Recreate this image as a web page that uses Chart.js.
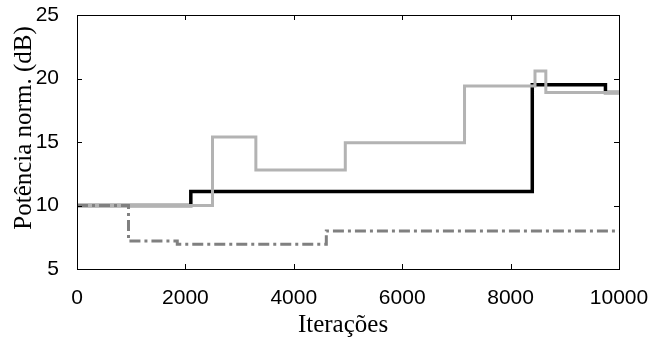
<!DOCTYPE html>
<html>
<head>
<meta charset="utf-8">
<script src="https://cdn.jsdelivr.net/npm/chart.js@4/dist/chart.umd.min.js"></script>
<style>
  html, body { margin: 0; padding: 0; background: #fff; }
  #wrap { width: 649px; height: 338px; }
</style>
</head>
<body>
<div id="wrap"><canvas id="myChart"></canvas></div>
<script>
// step change points (x = iteration where the new value starts)
const blackX = [0, 2100, 8400, 9750, 10000];
const blackY = [10, 11.1, 19.5, 18.9, 18.9];

const grayX = [0, 2500, 3300, 4950, 7150, 8450, 8650, 10000];
const grayY = [10, 15.4, 12.8, 14.95, 19.4, 20.6, 18.9, 18.9];

const dashX = [0, 950, 1850, 4600, 10000];
const dashY = [10, 7.2, 6.95, 8.0, 8.0];

const xTicks = [0, 2000, 4000, 6000, 8000, 10000];
const yTicks = [5, 10, 15, 20, 25];

const xTitle = "Iterações";
const yTitle = "Potência norm. (dB)";

function pts(xs, ys) {
  return xs.map((x, i) => ({ x: x, y: ys[i] }));
}

function noPad(s) {
  s.paddingTop = 0;
  s.paddingBottom = 0;
  s.paddingLeft = 0;
  s.paddingRight = 0;
}

// box, inward ticks and axis titles
const boxPlugin = {
  id: "box",
  afterDraw(chart) {
    const { ctx, chartArea: a, scales } = chart;
    ctx.save();
    ctx.strokeStyle = "#000";
    ctx.lineWidth = 1;
    ctx.strokeRect(a.left + 0.5, a.top + 0.5, a.right - a.left, a.bottom - a.top);
    const len = 5;
    ctx.beginPath();
    xTicks.forEach(v => {
      const px = Math.round(scales.x.getPixelForValue(v)) + 0.5;
      ctx.moveTo(px, a.bottom); ctx.lineTo(px, a.bottom - len);
      ctx.moveTo(px, a.top); ctx.lineTo(px, a.top + len);
    });
    yTicks.forEach(v => {
      const py = Math.round(scales.y.getPixelForValue(v)) + 0.5;
      ctx.moveTo(a.left, py); ctx.lineTo(a.left + len, py);
      ctx.moveTo(a.right, py); ctx.lineTo(a.right - len, py);
    });
    ctx.stroke();

    ctx.fillStyle = "#000";
    ctx.font = "25px 'Liberation Serif'";
    ctx.textAlign = "center";
    ctx.textBaseline = "alphabetic";
    ctx.fillText(xTitle, 343, 332);
    ctx.translate(31, 128);
    ctx.rotate(-Math.PI / 2);
    ctx.fillText(yTitle, 0, 0);
    ctx.restore();
  }
};

const ctx = document.getElementById("myChart").getContext("2d");

const myChart = new Chart(ctx, {
  type: "line",
  data: {
    datasets: [
      {
        label: "dash",
        data: pts(dashX, dashY),
        borderColor: "rgb(128, 128, 128)",
        borderWidth: 3,
        borderDash: [11, 4, 3, 4],
        stepped: true,
        pointRadius: 0,
        order: 1
      },
      {
        label: "gray",
        data: pts(grayX, grayY),
        borderColor: "rgb(179, 179, 179)",
        borderWidth: 3,
        stepped: true,
        pointRadius: 0,
        order: 2
      },
      {
        label: "black",
        data: pts(blackX, blackY),
        borderColor: "#000",
        borderWidth: 3.5,
        stepped: true,
        pointRadius: 0,
        order: 3
      }
    ]
  },
  options: {
    responsive: true,
    maintainAspectRatio: false,
    animation: false,
    layout: { padding: { top: 15, right: 30, left: 0, bottom: 0 } },
    scales: {
      x: {
        type: "linear",
        min: 0,
        max: 10000,
        afterFit: (s) => { s.height = 69; noPad(s); },
        afterBuildTicks: (s) => { s.ticks = xTicks.map(v => ({ value: v })); },
        ticks: {
          color: "#000",
          font: { family: "'Liberation Sans'", size: 21 },
          padding: 9,
          maxRotation: 0,
          callback: (v) => String(v)
        },
        grid: { display: false },
        border: { display: false }
      },
      y: {
        min: 5,
        max: 25,
        afterFit: (s) => { s.width = 77; noPad(s); },
        afterBuildTicks: (s) => { s.ticks = yTicks.map(v => ({ value: v })); },
        ticks: {
          color: "#000",
          font: { family: "'Liberation Sans'", size: 21 },
          padding: 10,
          callback: (v) => String(v)
        },
        grid: { display: false },
        border: { display: false }
      }
    },
    plugins: {
      legend: { display: false },
      tooltip: { enabled: false }
    }
  },
  plugins: [boxPlugin]
});
</script>
</body>
</html>
